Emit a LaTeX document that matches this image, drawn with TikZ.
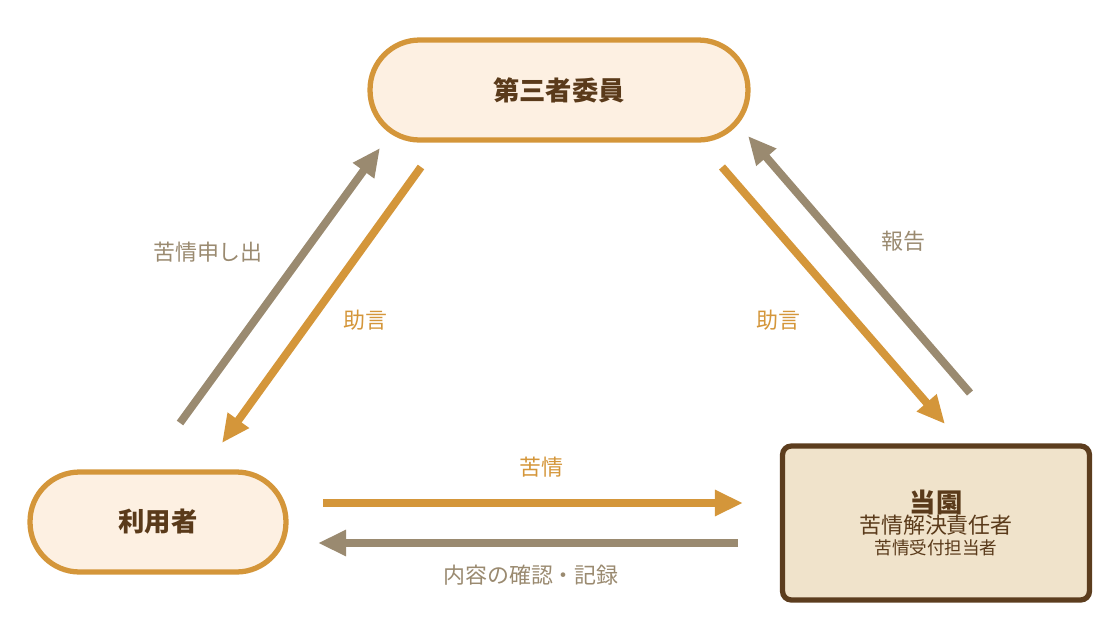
\documentclass[tikz,border=0pt]{standalone}
\usepackage{fontspec}
\setmainfont{Noto Sans CJK JP}
\usetikzlibrary{arrows.meta}
\definecolor{advorange}{HTML}{D4963A}
\definecolor{repgray}{HTML}{9A8A70}
\definecolor{pillfill}{HTML}{FDF0E2}
\definecolor{boxfill}{HTML}{F0E3CB}
\definecolor{boxline}{HTML}{5C3D1E}
\definecolor{darktext}{HTML}{5A3A1A}
\tikzset{
  pill/.style={draw=advorange,line width=3pt,fill=pillfill,rounded corners=0.99cm,
    minimum height=2cm,text=darktext,font=\fontsize{15}{18}\selectfont\bfseries},
  flow/.style={line width=4.5pt,-{Triangle[length=16pt,width=14pt]}},
  lbl/.style={font=\fontsize{12.5}{15}\selectfont}
}
\begin{document}
\begin{tikzpicture}[x=0.02cm,y=-0.02cm]
\useasboundingbox (0,0) rectangle (1120,640);

\node[pill,minimum width=7.56cm] (iin) at (559,90) {第三者委員};
\node[pill,minimum width=5.12cm] (user) at (158,522) {利用者};
\node[draw=boxline,line width=3pt,fill=boxfill,rounded corners=5pt,minimum width=6.14cm,
  minimum height=3.08cm,text=darktext,align=center] (en) at (936,523)
  {\fontsize{15}{26}\selectfont\bfseries 当園\\
   \fontsize{12.5}{21}\selectfont\mdseries 苦情解決責任者\\苦情受付担当者};

% arrow ends
\coordinate (ua) at (180,423); \coordinate (ia) at (380,148);
\coordinate (ib) at (421,167); \coordinate (ub) at (222,443);
\coordinate (ic) at (722,167); \coordinate (ec) at (945,424);
\coordinate (ed) at (970,393); \coordinate (id) at (748,136);
\coordinate (ue) at (323,503); \coordinate (ee) at (743,503);
\coordinate (ef) at (738,543); \coordinate (uf) at (318,543);

\draw[flow,repgray] (ua) -- (ia);
\draw[flow,advorange] (ib) -- (ub);
\draw[flow,advorange] (ic) -- (ec);
\draw[flow,repgray] (ed) -- (id);
\draw[flow,advorange] (ue) -- (ee);
\draw[flow,repgray] (ef) -- (uf);

\node[lbl,repgray] (l1) at (208,252) {苦情申し出};
\node[lbl,advorange] (l2) at (365,320) {助言};
\node[lbl,advorange] (l3) at (778,320) {助言};
\node[lbl,repgray] (l4) at (903,241) {報告};
\node[lbl,advorange] (l5) at (541,467) {苦情};
\node[lbl,repgray] (l6) at (531,575) {内容の確認・記録};
\end{tikzpicture}
\end{document}
